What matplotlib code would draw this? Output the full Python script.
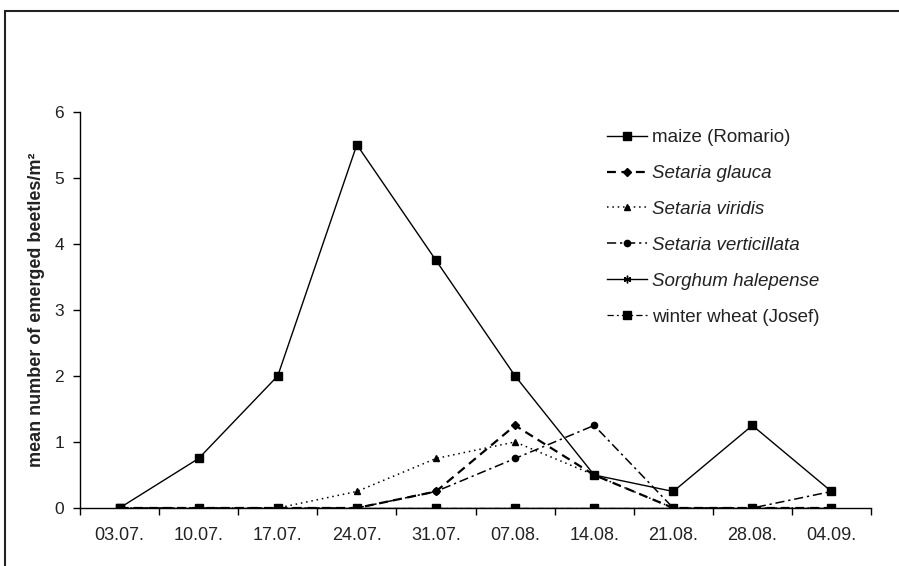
import matplotlib
matplotlib.use('Agg')
import matplotlib.pyplot as plt
from matplotlib.patches import Rectangle
import numpy as np

plt.rcParams['font.family'] = ['Liberation Sans', 'DejaVu Sans']

dates = ['03.07.', '10.07.', '17.07.', '24.07.', '31.07.', '07.08.', '14.08.', '21.08.', '28.08.', '04.09.']
maize = [0, 0.75, 2, 5.5, 3.75, 2, 0.5, 0.25, 1.25, 0.25]
glauca = [0, 0, 0, 0, 0.25, 1.25, 0.5, 0, 0, 0]
viridis = [0, 0, 0, 0.25, 0.75, 1.0, 0.5, 0, 0, 0]
verticillata = [0, 0, 0, 0, 0.25, 0.75, 1.25, 0, 0, 0.25]
sorghum = [0, 0, 0, 0, 0, 0, 0, 0, 0, 0]
wheat = [0, 0, 0, 0, 0, 0, 0, 0, 0, 0]

fig = plt.figure(figsize=(8.99, 5.66), dpi=100)
ax = fig.add_axes([80 / 899, 1 - 508 / 566, 791 / 899, 396.3 / 566])

x = np.arange(len(dates))
ax.plot(x, maize, '-', color='black', lw=1.0, marker='s', ms=5.2, label='maize (Romario)')
ax.plot(x, glauca, color='black', lw=1.6, ls=(0, (4, 2.5)), marker='D', ms=3.8, label='Setaria glauca')
ax.plot(x, viridis, color='black', lw=1.1, ls=(0, (1, 2.5)), marker='^', ms=4.5, label='Setaria viridis')
ax.plot(x, verticillata, color='black', lw=1.1, ls=(0, (6, 2.5, 1.5, 2.5)), marker='o', ms=4.5, label='Setaria verticillata')
ax.plot(x, sorghum, '-', color='black', lw=1.0, marker=(6, 2, 0), ms=5.5, label='Sorghum halepense')
ax.plot(x, wheat, color='black', lw=0.9, ls=(0, (5, 2.5, 1.5, 2.5)), marker='s', ms=5.2, label='winter wheat (Josef)')

ax.set_xlim(-0.5, len(dates) - 0.5)
ax.set_ylim(0, 6)
ax.set_yticks(range(7))
ax.set_xticks(x)
ax.set_xticklabels(dates)
ax.set_xticks(np.arange(-0.5, len(dates)), minor=True)
ax.tick_params(axis='x', which='major', length=0, pad=14, labelsize=13, labelcolor='#222222')
ax.tick_params(axis='x', which='minor', length=5, width=1, direction='out')
ax.tick_params(axis='y', length=5, width=1, direction='out', labelsize=12.5, labelcolor='#222222', pad=6.5)
for s in ['top', 'right']:
    ax.spines[s].set_visible(False)
ax.spines['left'].set_linewidth(1)
ax.spines['bottom'].set_linewidth(1)

ax.set_ylabel('mean number of emerged beetles/m²', fontsize=13, fontweight='bold', color='#222222', labelpad=7)

leg = ax.legend(loc='upper left', bbox_to_anchor=(0.657, 0.975), frameon=False, fontsize=13.5,
                handlelength=2.1, handletextpad=0.3, labelspacing=1.0, borderaxespad=0)
for t in leg.get_texts()[1:5]:
    t.set_fontstyle('italic')
for t in leg.get_texts():
    t.set_color('#222222')

fig.patches.append(Rectangle((5 / 899, -0.1), 2, 1.1 - 11 / 566, transform=fig.transFigure,
                             fill=False, edgecolor='#222222', lw=1.5))

plt.savefig('out.png', dpi=100)
plt.close()
